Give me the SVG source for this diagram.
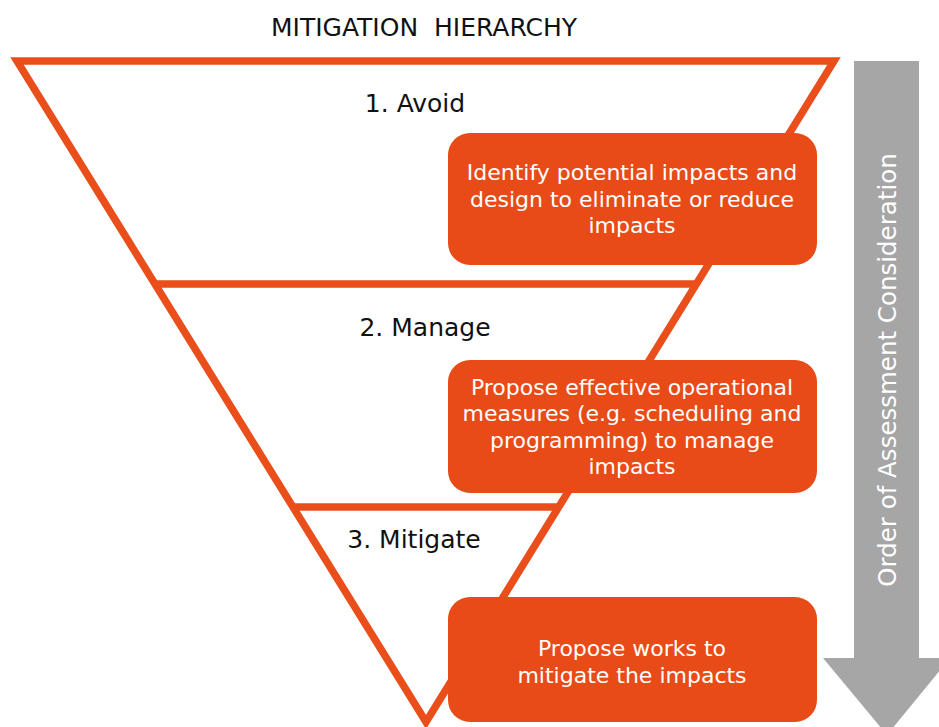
<svg xmlns="http://www.w3.org/2000/svg" width="939" height="727" viewBox="0 0 939 727">
<style>
.lbl{font-family:"DejaVu Sans",Verdana,sans-serif;font-size:25px;fill:#111;text-anchor:middle}
.bt{font-family:"DejaVu Sans",Verdana,sans-serif;font-size:22px;fill:#fff;text-anchor:middle}
.box{fill:#E84B17}
.ln{stroke:#E94E1B;stroke-width:7.5;fill:none}
</style>
<rect width="939" height="727" fill="#fff"/>
<text class="lbl" x="424" y="36" xml:space="preserve">MITIGATION  HIERARCHY</text>
<g id="arrow">
<polygon points="854,61 919,61 919,658 950,658 887,735 823,658 854,658" fill="#A6A6A6"/>
<text class="bt" transform="translate(896,370) rotate(-90)" style="font-size:24.5px">Order of Assessment Consideration</text>
</g>
<g id="connectors">
<polygon class="ln" points="17,61 834,61 426,722"/>
<line class="ln" x1="154" y1="284" x2="697" y2="284"/>
<line class="ln" x1="292" y1="507" x2="559" y2="507"/>
</g>
<g id="avoid"><text class="lbl" x="415" y="112">1. Avoid</text></g>
<g id="manage"><text class="lbl" x="425" y="336">2. Manage</text></g>
<g id="mitigate"><text class="lbl" x="414" y="548">3. Mitigate</text></g>
<g id="box1">
<rect class="box" x="448" y="133" width="369" height="132" rx="22"/>
<text class="bt" x="632" y="180">Identify potential impacts and</text>
<text class="bt" x="632" y="207">design to eliminate or reduce</text>
<text class="bt" x="632" y="233">impacts</text>
</g>
<g id="box2">
<rect class="box" x="448" y="360" width="369" height="133" rx="22"/>
<text class="bt" x="632" y="395">Propose effective operational</text>
<text class="bt" x="632" y="421">measures (e.g. scheduling and</text>
<text class="bt" x="632" y="448">programming) to manage</text>
<text class="bt" x="632" y="474">impacts</text>
</g>
<g id="box3">
<rect class="box" x="448" y="597" width="369" height="125" rx="22"/>
<text class="bt" x="632" y="656">Propose works to</text>
<text class="bt" x="632" y="683">mitigate the impacts</text>
</g>
</svg>
